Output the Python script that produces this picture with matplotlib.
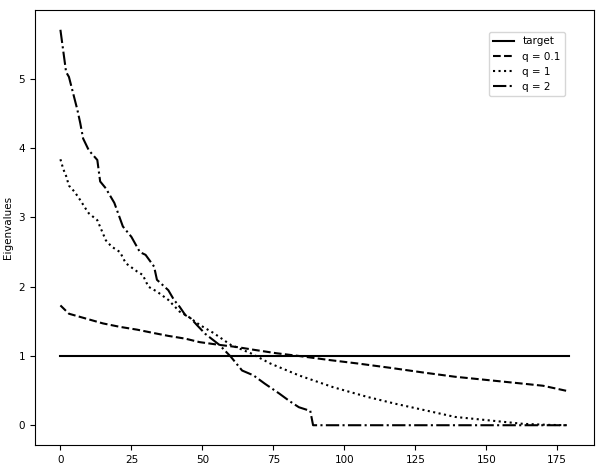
import matplotlib
matplotlib.use('Agg')
import matplotlib.pyplot as plt

# eigenvalue spectra (index -> value)
target_x = [0, 179]
target_y = [1.0, 1.0]

q01_x = [0, 3, 9, 15, 21, 27, 33, 38, 44, 49, 56, 62, 68, 76, 84, 95, 105, 116,
         128, 139, 151, 163, 170, 179]
q01_y = [1.73, 1.61, 1.54, 1.47, 1.42, 1.38, 1.33, 1.29, 1.25, 1.20, 1.16, 1.13,
         1.09, 1.04, 1.00, 0.94, 0.89, 0.83, 0.76, 0.70, 0.65, 0.60, 0.57, 0.49]

q1_x = [0, 1, 2, 3, 5, 7, 9, 10, 13, 16, 18, 21, 23, 27, 29, 31, 34, 38, 42, 45,
        49, 54, 60, 67, 74, 84, 96, 108, 118, 128, 139, 151, 163, 172, 179]
q1_y = [3.84, 3.70, 3.60, 3.46, 3.37, 3.25, 3.12, 3.06, 2.96, 2.67, 2.58, 2.50,
        2.34, 2.22, 2.17, 2.00, 1.93, 1.81, 1.64, 1.57, 1.45, 1.33, 1.16, 1.04,
        0.89, 0.72, 0.55, 0.41, 0.31, 0.22, 0.12, 0.07, 0.02, 0.005, 0.0]

q2_x = [0, 2, 3, 4, 6, 7, 8, 10, 13, 14, 16, 19, 22, 25, 28, 30, 33, 34, 38, 40,
        42, 44, 46, 48, 51, 56, 60, 64, 68, 72, 77, 81, 84, 87, 88, 89, 179]
q2_y = [5.71, 5.10, 5.03, 4.87, 4.55, 4.36, 4.14, 3.97, 3.83, 3.52, 3.42, 3.21,
        2.87, 2.72, 2.50, 2.46, 2.29, 2.10, 1.95, 1.81, 1.71, 1.59, 1.54, 1.45,
        1.32, 1.16, 0.99, 0.79, 0.72, 0.60, 0.46, 0.34, 0.26, 0.22, 0.21, 0.0, 0.0]

plt.rcParams['font.size'] = 7.5

fig = plt.figure(figsize=(6.03, 4.69), dpi=100)
ax = fig.add_axes([35 / 603, 24 / 469, 559 / 603, 435 / 469])

ax.plot(target_x, target_y, 'k-', label='target')
ax.plot(q01_x, q01_y, 'k--', label='q = 0.1')
ax.plot(q1_x, q1_y, 'k:', label='q = 1')
ax.plot(q2_x, q2_y, 'k-.', label='q = 2')

ax.set_xticks([0, 25, 50, 75, 100, 125, 150, 175])
ax.set_ylabel('Eigenvalues')
ax.legend(loc='upper right', bbox_to_anchor=(0.957, 0.961))

fig.savefig('out.png', dpi=100)
